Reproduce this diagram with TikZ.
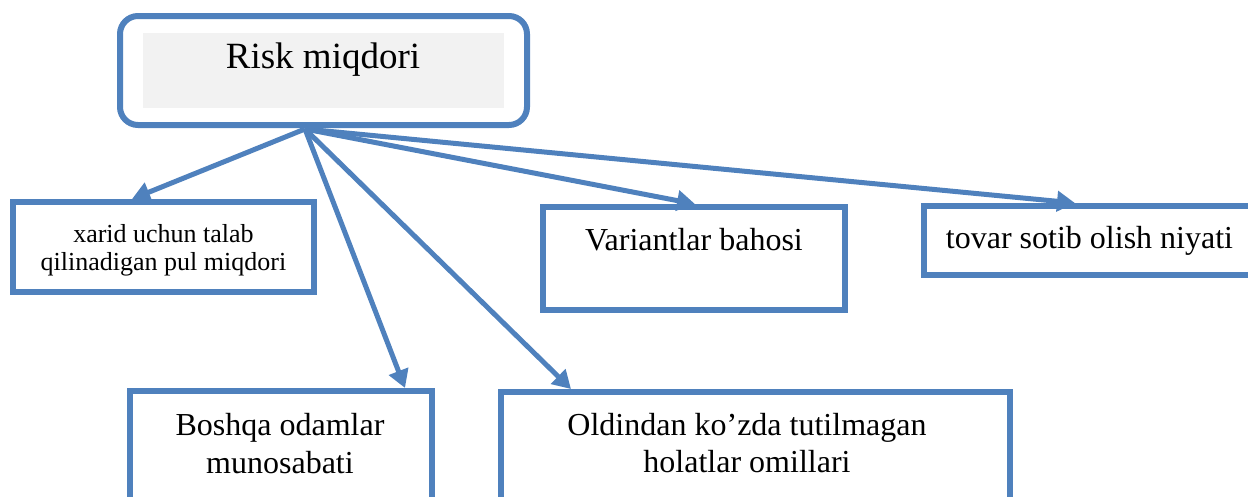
\documentclass[tikz,border=0pt]{standalone}
\usepackage{fontspec}
\setmainfont{Liberation Serif}
\usetikzlibrary{arrows.meta}
\definecolor{frameblue}{HTML}{4F81BD}
\definecolor{panelgray}{HTML}{F2F2F2}
\tikzset{
  framebox/.style={draw=frameblue, line width=6pt, fill=white, inner sep=0pt},
  link/.style={draw=frameblue, line width=5pt, -{Triangle[length=18pt,width=20pt]}},
  label/.style={anchor=base, inner sep=0pt, align=center, text=black}
}
\begin{document}
\begin{tikzpicture}[x=1pt,y=-1pt]
\useasboundingbox (0,0) rectangle (1248,496);
\clip (0,0) rectangle (1248,496);

% main box
\node[framebox, rounded corners=18pt, minimum width=407pt, minimum height=109pt] (risk) at (323.5,70.5) {};
\node[fill=panelgray, inner sep=0pt, minimum width=361pt, minimum height=75pt] (panel) at (323.5,70.5) {};
\node[label, font=\fontsize{37}{42}\selectfont] (risktxt) at (323,68) {Risk miqdori};
\coordinate (hub) at (305,129);

% factor boxes (multi-line labels are placed by the baseline of their last line)
\node[framebox, minimum width=301pt, minimum height=90pt] (b1) at (163.5,247) {};
\node[label, font=\fontsize{26}{28}\selectfont] (t1) at (163.5,270) {xarid uchun talab\\qilinadigan pul miqdori};

\node[framebox, minimum width=302pt, minimum height=103pt] (b2) at (694,258.5) {};
\node[label, font=\fontsize{32}{36}\selectfont] (t2) at (694,250) {Variantlar bahosi};

\node[framebox, minimum width=400pt, minimum height=69pt] (b3) at (1124,240.5) {};
\node[label, font=\fontsize{32}{36}\selectfont] (t3) at (1089.5,248) {tovar sotib olish niyati};

\node[framebox, minimum width=302pt, minimum height=160pt] (b4) at (281,471) {};
\node[label, font=\fontsize{32}{38}\selectfont] (t4) at (280,473) {Boshqa odamlar\\munosabati};

\node[framebox, minimum width=509pt, minimum height=160pt] (b5) at (755.5,472) {};
\node[label, font=\fontsize{32}{37}\selectfont] (t5) at (747,472) {Oldindan ko’zda tutilmagan\\holatlar omillari};

% connectors
\draw[link] (hub) -- ([xshift=122]b1.north west);
\draw[link] (hub) -- ([xshift=155]b2.north west);
\draw[link] (hub) -- ([xshift=154]b3.north west);
\draw[link] (hub) -- ([xshift=278]b4.north west);
\draw[link] (hub) -- ([xshift=73]b5.north west);
\end{tikzpicture}
\end{document}
